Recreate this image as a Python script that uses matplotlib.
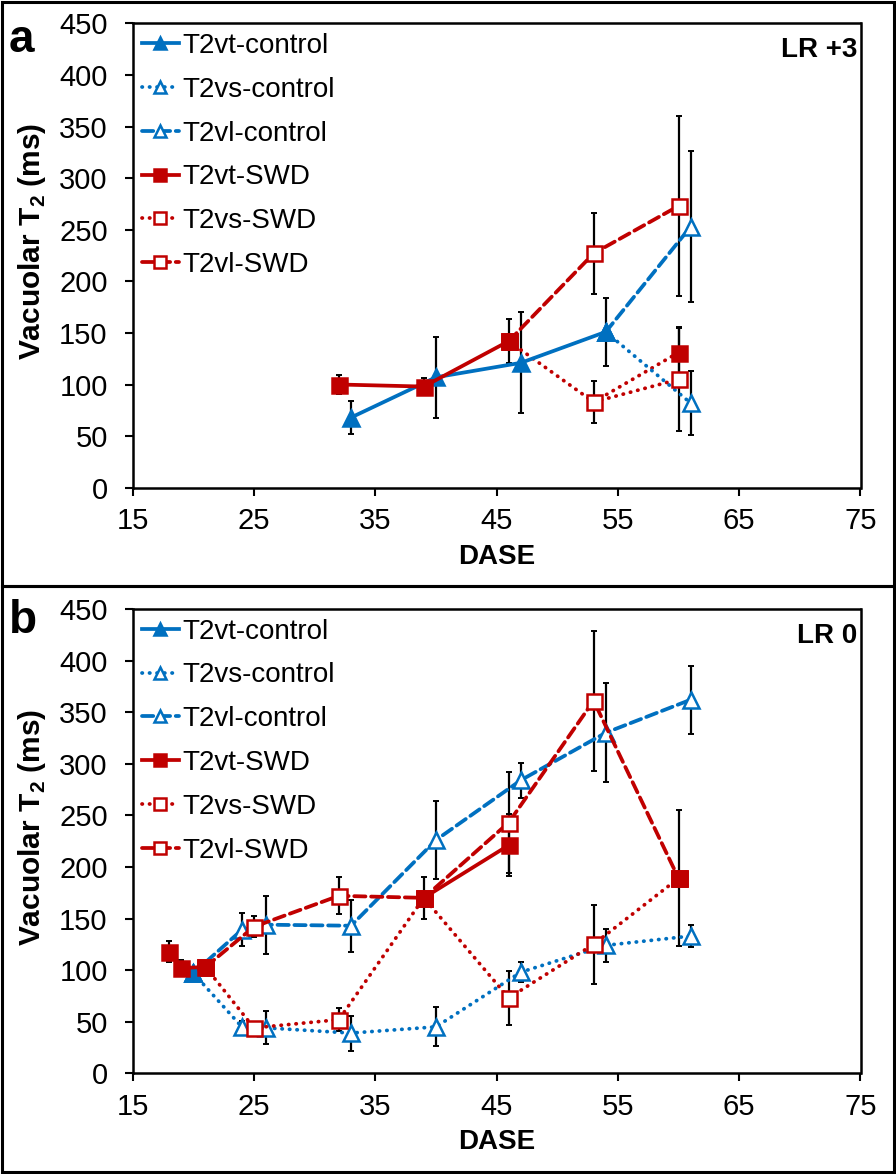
import numpy as np
import matplotlib
matplotlib.use('Agg')
import matplotlib.pyplot as plt
from matplotlib.patches import Rectangle

plt.rcParams['font.family'] = ['Liberation Sans', 'DejaVu Sans']
plt.rcParams['mathtext.fontset'] = 'custom'
plt.rcParams['mathtext.rm'] = 'Liberation Sans'
plt.rcParams['mathtext.bf'] = 'Liberation Sans:bold'

nan = np.nan

# panel a (LR +3)
a_x_ctrl = [33, 40, 47, 54, 61]
a_vt_ctrl = [68, 107, 121, 151, nan]
a_vt_ctrl_err = [16, 39, 49, 33, nan]
a_vs_ctrl = [nan, nan, nan, 151, 82]
a_vs_ctrl_err = [nan, nan, nan, nan, 31]
a_vl_ctrl = [nan, nan, nan, 151, 253]
a_vl_ctrl_err = [nan, nan, nan, nan, 73]

a_x_swd = [32, 39, 46, 53, 60]
a_vt_swd = [100, 98, 142, nan, 131]
a_vt_swd_err = [9, 8, 21, nan, 25]
a_vs_swd = [nan, nan, 142, 83, 105]
a_vs_swd_err = [nan, nan, nan, 20, 50]
a_vl_swd = [nan, nan, 142, 227, 273]
a_vl_swd_err = [nan, nan, nan, 39, 87]

# panel b (LR 0)
b_x_ctrl = [20, 24, 26, 33, 40, 47, 54, 61]
b_vt_ctrl = [97, nan, nan, nan, nan, nan, nan, nan]
b_vt_ctrl_err = [5, nan, nan, nan, nan, nan, nan, nan]
b_vs_ctrl = [97, 45, 44, 39, 45, 98, 124, 133]
b_vs_ctrl_err = [nan, 6, 16, 17, 19, 10, 16, 11]
b_vl_ctrl = [97, 139, 144, 143, 226, 284, 330, 362]
b_vl_ctrl_err = [nan, 16, 28, 25, 38, 17, 48, 33]

b_x_swd = [18, 19, 21, 25, 32, 39, 46, 53, 60]
b_vt_swd = [118, 102, 103, nan, nan, 170, 221, nan, 189]
b_vt_swd_err = [10, 8, 5, nan, nan, 20, 30, nan, 66]
b_vs_swd = [nan, nan, 103, 44, 52, 170, 73, 125, 189]
b_vs_swd_err = [nan, nan, nan, 5, 11, nan, 26, 38, nan]
b_vl_swd = [nan, nan, 103, 142, 172, 170, 243, 361, 189]
b_vl_swd_err = [nan, nan, nan, 10, 18, nan, 49, 68, nan]

labels = ['T2vt-control', 'T2vs-control', 'T2vl-control',
          'T2vt-SWD', 'T2vs-SWD', 'T2vl-SWD']

blue = '#0070C0'
red = '#C00000'
dotted = (0, (0.1, 1.9))
dashed = (0, (3.0, 1.5))

W, H = 896, 1174


def fx(px):
    return px / W


def fy(py):
    return 1 - py / H


def draw_series(ax, x, y, err, color, ls, marker, filled, label, z):
    x = np.array(x, dtype=float)
    y = np.array(y, dtype=float)
    err = np.array(err, dtype=float)
    ax.errorbar(x, y, yerr=err, fmt='none', ecolor='black', elinewidth=1.6,
                capsize=2.5, capthick=1.4, zorder=2)
    ax.plot(x, y, color=color, lw=2.7, linestyle=ls, marker=marker,
            markersize=11.5 if marker == '^' else 10.8,
            markerfacecolor=color if filled else 'white',
            markeredgecolor=color, markeredgewidth=1.8,
            dash_capstyle='round', label=label, zorder=z)


def make_panel(top_px, data, tag, letter, letter_y):
    left, right = 132.7, 860.5
    bottom = top_px + 464.4
    ax = fig.add_axes([fx(left), fy(bottom), (right - left) / W, 464.4 / H])
    (xc, vt_c, vt_ce, vs_c, vs_ce, vl_c, vl_ce,
     xs, vt_s, vt_se, vs_s, vs_se, vl_s, vl_se) = data

    draw_series(ax, xc, vt_c, vt_ce, blue, '-', '^', True, labels[0], 6)
    draw_series(ax, xc, vs_c, vs_ce, blue, dotted, '^', False, labels[1], 4)
    draw_series(ax, xc, vl_c, vl_ce, blue, dashed, '^', False, labels[2], 4)
    draw_series(ax, xs, vt_s, vt_se, red, '-', 's', True, labels[3], 6)
    draw_series(ax, xs, vs_s, vs_se, red, dotted, 's', False, labels[4], 4)
    draw_series(ax, xs, vl_s, vl_se, red, dashed, 's', False, labels[5], 4)

    ax.set_xlim(15, 75)
    ax.set_ylim(0, 450)
    ax.set_xticks(np.arange(15, 76, 10))
    ax.set_yticks(np.arange(0, 451, 50))
    ax.tick_params(direction='out', length=6, width=1.5, labelsize=21)
    ax.tick_params(axis='x', pad=8)
    ax.tick_params(axis='y', pad=12)
    for s in ax.spines.values():
        s.set_linewidth(1.8)

    ax.legend(loc='upper left', frameon=False, fontsize=20,
              handlelength=1.3, handletextpad=0.15, labelspacing=0.64,
              borderaxespad=0.15, markerscale=0.75, borderpad=0.2)

    fig.text(fx(857), fy(top_px + 27), tag, ha='right', va='center',
             fontsize=20, fontweight='bold')
    fig.text(fx(32), fy(top_px + 218), r'Vacuolar T$_{\mathbf{2}}$ (ms)',
             rotation=90, ha='center', va='center', fontsize=21.5,
             fontweight='bold')
    fig.text(fx(496.6), fy(bottom + 69), 'DASE', ha='center', va='center',
             fontsize=20, fontweight='bold')
    fig.text(fx(9), fy(letter_y), letter, ha='left', va='baseline',
             fontsize=33, fontweight='bold')
    return ax


fig = plt.figure(figsize=(W / 100, H / 100), dpi=100)

ax_a = make_panel(23.3, (a_x_ctrl, a_vt_ctrl, a_vt_ctrl_err, a_vs_ctrl,
                         a_vs_ctrl_err, a_vl_ctrl, a_vl_ctrl_err,
                         a_x_swd, a_vt_swd, a_vt_swd_err, a_vs_swd,
                         a_vs_swd_err, a_vl_swd, a_vl_swd_err),
                  'LR +3', 'a', 52)
# extra dotted link in panel a (T2vs-SWD at 53 to the T2vt-SWD point at 60)
ax_a.plot([a_x_swd[3], a_x_swd[4]], [a_vs_swd[3], a_vt_swd[4]], color=red,
          lw=2.7, linestyle=dotted, dash_capstyle='round', zorder=3)

ax_b = make_panel(608.9, (b_x_ctrl, b_vt_ctrl, b_vt_ctrl_err, b_vs_ctrl,
                          b_vs_ctrl_err, b_vl_ctrl, b_vl_ctrl_err,
                          b_x_swd, b_vt_swd, b_vt_swd_err, b_vs_swd,
                          b_vs_swd_err, b_vl_swd, b_vl_swd_err),
                  'LR 0', 'b', 633)

# outer frames round each panel
for y0, y1 in [(2, 586), (586, 1172)]:
    fig.patches.append(Rectangle((fx(2), fy(y1)), fx(892), (y1 - y0) / H,
                                 transform=fig.transFigure, fill=False,
                                 lw=2.2, edgecolor='black'))

fig.savefig('out.png', dpi=100)
